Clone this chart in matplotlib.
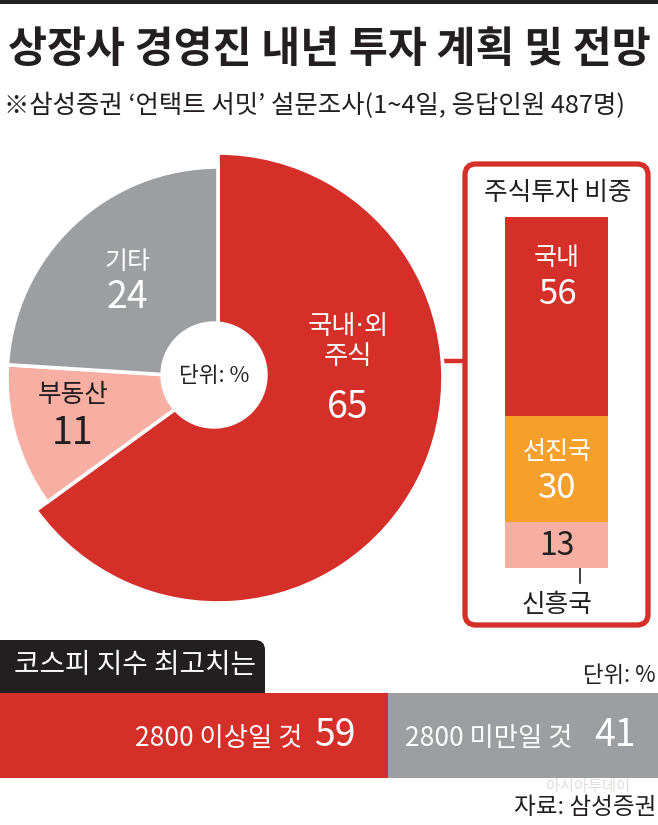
import matplotlib
matplotlib.use('Agg')
import matplotlib.pyplot as plt
from matplotlib.patches import FancyBboxPatch, Rectangle, Circle

plt.rcParams['font.family'] = ['Noto Sans CJK KR', 'DejaVu Sans']

# colours
RED = '#D52F2A'
GRAY = '#9D9EA2'
PINK = '#F6AFA2'
ORANGE = '#F6A02C'
DARK = '#231F20'

# data
title = '상장사 경영진 내년 투자 계획 및 전망'
subtitle = '※삼성증권 ‘언택트 서밋’ 설문조사(1~4일, 응답인원 487명)'

asset_labels = ['국내·외\n주식', '부동산', '기타']
asset_values = [65, 11, 24]

stock_labels = ['신흥국', '선진국', '국내']
stock_values = [13, 30, 56]

kospi_labels = ['2800 이상일 것', '2800 미만일 것']
kospi_values = [59, 41]

W, H = 658, 825
fig = plt.figure(figsize=(W / 100, H / 100), dpi=100, facecolor='white')

# background layer in pixel coords (y down)
ax_bg = fig.add_axes([0, 0, 1, 1], zorder=0)
ax_bg.set_xlim(0, W)
ax_bg.set_ylim(H, 0)
ax_bg.axis('off')


def px(x, y, s, size, color=DARK, ha='center', va='center', weight='normal', family=None):
    # figure-level text so it sits above every axes
    kw = {} if family is None else {'family': family}
    fig.text(x, y, s, transform=ax_bg.transData, fontsize=size, color=color,
             ha=ha, va=va, fontweight=weight, **kw)


def axes_px(x0, y0, x1, y1, z=1):
    return fig.add_axes([x0 / W, (H - y1) / H, (x1 - x0) / W, (y1 - y0) / H], zorder=z)


# top dark strip
ax_bg.add_patch(Rectangle((0, 0), W, 4, color=DARK, lw=0))

px(329, 50, title, 30.5, weight='bold')
px(4, 106, subtitle, 18.3, ha='left')

# ---- pie with a hole
R = 225.0
cx, cy = 218, 378
ax_pie = axes_px(cx - 240, cy - 240, cx + 240, cy + 240)
wedges, _ = ax_pie.pie(asset_values, colors=[RED, PINK, GRAY], startangle=90,
                       counterclock=False, radius=1.0,
                       wedgeprops=dict(edgecolor='white', linewidth=2.6))
for w in wedges[1:]:
    w.set_radius(211 / R)
ax_pie.add_patch(Circle((-4 / R, 3 / R), 53 / R, color='white', zorder=5))
ax_pie.set_xlim(-240 / R, 240 / R)
ax_pie.set_ylim(-240 / R, 240 / R)
ax_pie.set_aspect('equal')
ax_pie.axis('off')

# latin middle dot from DejaVu, hangul falls back to Noto
px(348, 342, asset_labels[0], 19, color='white',
   family=['DejaVu Sans', 'Noto Sans CJK KR'])
px(348, 407, str(asset_values[0]), 27, color='white')
px(127, 262, asset_labels[2], 18, color='white')
px(127, 298, str(asset_values[2]), 27, color='white')
px(73, 395, asset_labels[1], 18.5)
px(73, 433, str(asset_values[1]), 27)
px(214, 376, '단위: %', 15.5)

# connector + framed box
ax_bg.plot([444, 464], [361, 361], color=RED, lw=3.2, solid_capstyle='butt')
ax_bg.add_patch(FancyBboxPatch((465, 164), 183, 461,
                               boxstyle='round,pad=0,rounding_size=11',
                               fc='white', ec=RED, lw=3.8))
px(558, 193, '주식투자 비중', 18.5)

# ---- stacked bar
ax_st = axes_px(505, 217, 608, 568)
bottom = 0
for v, c in zip(stock_values, [PINK, ORANGE, RED]):
    ax_st.bar(0, v, width=1, bottom=bottom, color=c, lw=0)
    bottom += v
ax_st.set_xlim(-0.5, 0.5)
ax_st.set_ylim(0, sum(stock_values))
ax_st.axis('off')

px(557, 258, stock_labels[2], 18, color='white')
px(557, 294, str(stock_values[2]), 25, color='white')
px(557, 452, stock_labels[1], 18, color='white')
px(557, 488, str(stock_values[1]), 25, color='white')
px(557, 546, str(stock_values[0]), 23)
ax_bg.plot([580, 580], [568, 583], color=DARK, lw=1.2)
px(557, 605, stock_labels[0], 18.5)

# ---- kospi bar
ax_bg.add_patch(FancyBboxPatch((-20, 640), 285, 70,
                               boxstyle='round,pad=0,rounding_size=10',
                               fc=DARK, ec='none'))
px(14, 665, '코스피 지수 최고치는', 20, color='white', ha='left')
px(656, 676, '단위: %', 16, ha='right')

ax_k = axes_px(0, 693, W, 778)
ax_k.barh(0.5, kospi_values[0], height=1, left=0, color=RED, lw=0)
ax_k.barh(0.5, kospi_values[1], height=1, left=kospi_values[0], color=GRAY, lw=0)
ax_k.set_xlim(0, 100)
ax_k.set_ylim(0, 1)
ax_k.axis('off')

px(302, 738, kospi_labels[0], 19, color='white', ha='right')
px(314, 736, str(kospi_values[0]), 27, color='white', ha='left')
px(405, 738, kospi_labels[1], 19, color='white', ha='left')
px(594, 736, str(kospi_values[1]), 27, color='white', ha='left')

px(588, 787, '아시아투데이', 11, color='#E3DCDC')
px(656, 808, '자료: 삼성증권', 17, ha='right')

fig.savefig('out.png', dpi=100, facecolor='white')
